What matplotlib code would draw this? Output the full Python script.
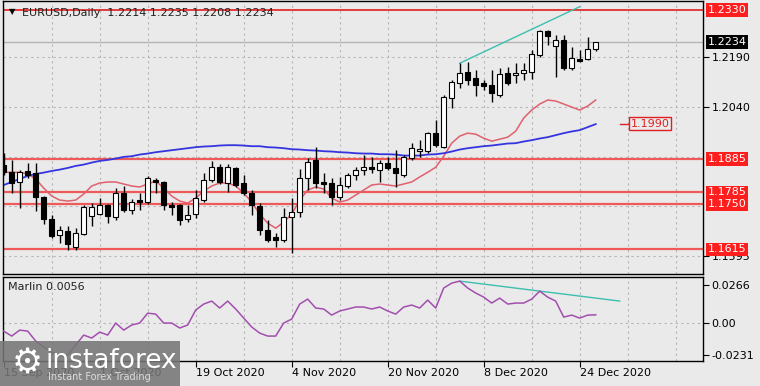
import numpy as np
import matplotlib.pyplot as plt
from matplotlib.patches import Rectangle

# bar index 0 = 15 Sep 2020, one bar per trading day
opens = [1.1866, 1.1845, 1.1816, 1.1848, 1.1842, 1.1771, 1.1705, 1.1657, 1.1669, 1.1621,
         1.1660, 1.1714, 1.1720, 1.1747, 1.1711, 1.1783, 1.1732, 1.1762, 1.1756, 1.1822,
         1.1816, 1.1747, 1.1747, 1.1705, 1.1720, 1.1762, 1.1822, 1.1860, 1.1813, 1.1857,
         1.1813, 1.1783, 1.1744, 1.1672, 1.1651, 1.1642, 1.1711, 1.1726, 1.1828, 1.1881,
         1.1816, 1.1813, 1.1771, 1.1804, 1.1837, 1.1851, 1.1860, 1.1851, 1.1872, 1.1857,
         1.1837, 1.1887, 1.1908, 1.1908, 1.1962, 1.1920, 1.2067, 1.2112, 1.2145, 1.2127,
         1.2112, 1.2106, 1.2076, 1.2142, 1.2136, 1.2142, 1.2145, 1.2195, 1.2267, 1.2222,
         1.2240, 1.2157, 1.2183, 1.2183, 1.2214]
highs = [1.1902, 1.1881, 1.1851, 1.1872, 1.1872, 1.1774, 1.1717, 1.1684, 1.1684, 1.1678,
         1.1747, 1.1753, 1.1768, 1.1750, 1.1798, 1.1804, 1.1765, 1.1783, 1.1834, 1.1828,
         1.1819, 1.1756, 1.1750, 1.1747, 1.1792, 1.1842, 1.1878, 1.1869, 1.1869, 1.1860,
         1.1837, 1.1792, 1.1753, 1.1702, 1.1663, 1.1738, 1.1768, 1.1854, 1.1887, 1.1920,
         1.1842, 1.1828, 1.1831, 1.1842, 1.1860, 1.1896, 1.1890, 1.1881, 1.1890, 1.1911,
         1.1896, 1.1932, 1.1941, 1.1965, 1.2001, 1.2076, 1.2121, 1.2171, 1.2174, 1.2151,
         1.2121, 1.2151, 1.2157, 1.2160, 1.2171, 1.2171, 1.2210, 1.2270, 1.2270, 1.2255,
         1.2255, 1.2219, 1.2210, 1.2249, 1.2235]
lows = [1.1837, 1.1783, 1.1738, 1.1828, 1.1729, 1.1690, 1.1648, 1.1633, 1.1612, 1.1612,
        1.1657, 1.1684, 1.1717, 1.1693, 1.1702, 1.1726, 1.1720, 1.1732, 1.1750, 1.1783,
        1.1732, 1.1717, 1.1687, 1.1696, 1.1708, 1.1756, 1.1816, 1.1810, 1.1786, 1.1801,
        1.1777, 1.1717, 1.1657, 1.1636, 1.1621, 1.1636, 1.1603, 1.1711, 1.1792, 1.1798,
        1.1783, 1.1747, 1.1762, 1.1798, 1.1822, 1.1837, 1.1842, 1.1816, 1.1851, 1.1801,
        1.1831, 1.1881, 1.1890, 1.1902, 1.1920, 1.1917, 1.2037, 1.2097, 1.2106, 1.2073,
        1.2091, 1.2055, 1.2070, 1.2106, 1.2112, 1.2121, 1.2124, 1.2189, 1.2225, 1.2130,
        1.2151, 1.2151, 1.2174, 1.2180, 1.2208]
closes = [1.1845, 1.1813, 1.1845, 1.1837, 1.1771, 1.1705, 1.1654, 1.1672, 1.1630, 1.1663,
          1.1741, 1.1741, 1.1747, 1.1714, 1.1783, 1.1732, 1.1756, 1.1756, 1.1828, 1.1816,
          1.1747, 1.1741, 1.1702, 1.1717, 1.1768, 1.1822, 1.1860, 1.1816, 1.1860, 1.1807,
          1.1783, 1.1747, 1.1672, 1.1642, 1.1642, 1.1711, 1.1726, 1.1828, 1.1875, 1.1813,
          1.1810, 1.1771, 1.1807, 1.1837, 1.1851, 1.1860, 1.1854, 1.1872, 1.1857, 1.1842,
          1.1890, 1.1917, 1.1914, 1.1962, 1.1926, 1.2070, 1.2115, 1.2142, 1.2121, 1.2106,
          1.2103, 1.2082, 1.2139, 1.2112, 1.2142, 1.2151, 1.2198, 1.2267, 1.2252, 1.2240,
          1.2157, 1.2186, 1.2177, 1.2213, 1.2234]

# moving averages
ma_fast = [1.1845, 1.1845, 1.1845, 1.1840, 1.1825, 1.1798, 1.1774, 1.1762, 1.1759, 1.1762,
           1.1780, 1.1804, 1.1813, 1.1816, 1.1816, 1.1810, 1.1804, 1.1801, 1.1810, 1.1819,
           1.1798, 1.1774, 1.1759, 1.1753, 1.1768, 1.1789, 1.1804, 1.1813, 1.1813, 1.1804,
           1.1783, 1.1756, 1.1720, 1.1693, 1.1678, 1.1696, 1.1720, 1.1762, 1.1792, 1.1801,
           1.1795, 1.1768, 1.1756, 1.1762, 1.1777, 1.1792, 1.1807, 1.1810, 1.1807, 1.1804,
           1.1810, 1.1816, 1.1831, 1.1845, 1.1860, 1.1893, 1.1932, 1.1953, 1.1962, 1.1959,
           1.1947, 1.1938, 1.1944, 1.1950, 1.1968, 1.2007, 1.2031, 1.2049, 1.2061, 1.2058,
           1.2049, 1.2040, 1.2031, 1.2043, 1.2061]
ma_slow = [1.1807, 1.1816, 1.1825, 1.1834, 1.1840, 1.1844, 1.1849, 1.1853, 1.1858, 1.1864,
           1.1868, 1.1874, 1.1879, 1.1882, 1.1886, 1.1891, 1.1893, 1.1898, 1.1901, 1.1905,
           1.1908, 1.1911, 1.1914, 1.1917, 1.1920, 1.1922, 1.1923, 1.1925, 1.1926, 1.1926,
           1.1925, 1.1923, 1.1923, 1.1920, 1.1919, 1.1917, 1.1914, 1.1913, 1.1911, 1.1910,
           1.1908, 1.1907, 1.1905, 1.1904, 1.1902, 1.1901, 1.1901, 1.1899, 1.1899, 1.1898,
           1.1895, 1.1895, 1.1895, 1.1898, 1.1899, 1.1902, 1.1907, 1.1913, 1.1917, 1.1920,
           1.1923, 1.1925, 1.1928, 1.1931, 1.1932, 1.1937, 1.1941, 1.1946, 1.1950, 1.1956,
           1.1962, 1.1967, 1.1971, 1.1980, 1.1989]
marlin = [-0.0059, -0.0094, -0.0052, -0.0059, -0.0129, -0.0172, -0.0207, -0.0235, -0.0228, -0.0157,
          -0.0087, -0.0108, -0.0066, -0.0087, -0.0002, -0.0052, -0.0016, -0.0002, 0.0068, 0.0061,
          -0.0002, -0.0002, -0.0037, -0.0016, 0.0090, 0.0132, 0.0153, 0.0104, 0.0153, 0.0097,
          0.0033, -0.0030, -0.0073, -0.0094, -0.0094, -0.0002, 0.0026, 0.0132, 0.0167, 0.0104,
          0.0097, 0.0054, 0.0083, 0.0097, 0.0111, 0.0111, 0.0097, 0.0111, 0.0083, 0.0061,
          0.0111, 0.0125, 0.0104, 0.0160, 0.0104, 0.0245, 0.0280, 0.0294, 0.0245, 0.0210,
          0.0181, 0.0139, 0.0174, 0.0132, 0.0139, 0.0139, 0.0167, 0.0223, 0.0181, 0.0153,
          0.0040, 0.0054, 0.0033, 0.0054, 0.0056]

levels = [1.2330, 1.1885, 1.1785, 1.1750, 1.1615]
level_labels = ['1.2330', '1.1885', '1.1785', '1.1750', '1.1615']
grid_prices = [1.2190, 1.2040, 1.1890, 1.1745, 1.1595]
axis_prices = [1.2190, 1.2040, 1.1595]
axis_price_labels = ['1.2190', '1.2040', '1.1595']
bid = 1.2234
slow_ma_mark = 1.1990
price_trend_x = [57, 72]
price_trend_y = [1.2171, 1.2340]
marlin_trend_x = [57, 77]
marlin_trend_y = [0.0294, 0.0153]
date_pos = [0, 12, 24, 36, 48, 60, 72]
date_labels = ['15 Sep 2020', '1 Oct 2020', '19 Oct 2020', '4 Nov 2020',
               '20 Nov 2020', '8 Dec 2020', '24 Dec 2020']
marlin_ticks = [0.0266, 0.0, -0.0231]
marlin_tick_labels = ['0.0266', '0.00', '-0.0231']

BG = '#eaeaea'
W, H = 760, 386
fig = plt.figure(figsize=(W / 100, H / 100), dpi=100, facecolor=BG)
plt.rcParams['font.family'] = 'DejaVu Sans'

def px_axes(x0, y0, x1, y1):
    return fig.add_axes([x0 / W, 1 - y1 / H, (x1 - x0) / W, (y1 - y0) / H])

ax = px_axes(2.5, 1, 703.3, 274)
ax2 = px_axes(2.5, 277, 703.3, 361)

xmin, xmax = -0.15, 87.45
for a in (ax, ax2):
    a.set_facecolor(BG)
    a.set_xlim(xmin, xmax)
    for s in a.spines.values():
        s.set_color('black')
        s.set_linewidth(1)
    for gx in range(6, 88, 6):
        a.axvline(gx, color='#b5b5b5', lw=0.8, ls=(0, (2, 3)), zorder=0)

# ---- price panel
ax.set_ylim(1.1541, 1.2357)
for g in grid_prices:
    ax.axhline(g, color='#b5b5b5', lw=0.8, ls=(0, (2, 3)), zorder=0)
ax.axhline(bid, color='#b4b4b4', lw=1, zorder=1)

for lv in levels:
    if lv == levels[0]:
        ax.axhline(lv, color='#e02020', lw=1.2, zorder=1)
    else:
        ax.axhline(lv, color='#ee5a5a', lw=1.6, zorder=1)

x = np.arange(len(opens))
o = np.array(opens)
c = np.array(closes)
ax.vlines(x, lows, highs, color='black', lw=1, zorder=3)
fills = ['white' if cc >= oo else 'black' for oo, cc in zip(o, c)]
ax.bar(x, np.maximum(np.abs(c - o), 0.00025), bottom=np.minimum(o, c), width=0.62,
       color=fills, edgecolor='black', linewidth=0.8, zorder=4)

ax.plot(x, ma_fast, color='#e0606e', lw=1.1, zorder=2)
ax.plot(x, ma_slow, color='#3535e0', lw=1.3, zorder=2)
ax.plot(price_trend_x, price_trend_y, color='#3cbfae', lw=1, zorder=2)

ax.plot([77, 78.3], [slow_ma_mark, slow_ma_mark], color='#e02020', lw=1, zorder=2)
ax.text(78.4, slow_ma_mark, '1.1990', color='#e02020', fontsize=8, va='center', ha='left',
        bbox=dict(boxstyle='square,pad=0.15', fc=BG, ec='#e02020', lw=1), zorder=5)

ax.set_xticks([])
ax.yaxis.tick_right()
ax.set_yticks(axis_prices, axis_price_labels)
ax.tick_params(axis='y', length=4, labelsize=8, pad=2, colors='black')

ytr = ax.get_yaxis_transform()
for lv, lab in zip(levels, level_labels):
    ax.text(1.006, lv, lab, transform=ytr, color='white', fontsize=8, va='center', ha='left',
            bbox=dict(boxstyle='square,pad=0.15', fc='#ff1e1e', ec='none'), zorder=6)
ax.text(1.006, bid, '1.2234', transform=ytr, color='white', fontsize=8, va='center', ha='left',
        bbox=dict(boxstyle='square,pad=0.15', fc='black', ec='none'), zorder=6)

ax.annotate('\u25bc', xy=(0, 1), xycoords='axes fraction', xytext=(6, -11),
            textcoords='offset pixels', fontsize=6, va='center', ha='left')
ax.annotate('EURUSD,Daily  1.2214 1.2235 1.2208 1.2234', xy=(0, 1), xycoords='axes fraction',
            xytext=(19, -12), textcoords='offset pixels', fontsize=8, va='center', ha='left',
            color='#222222')

# ---- Marlin panel
ax2.set_ylim(-0.0270, 0.0323)
ax2.axhline(0, color='#b5b5b5', lw=0.8, ls=(0, (2, 3)), zorder=0)
ax2.plot(x, marlin, color='#a24fae', lw=1.1, zorder=3)
ax2.plot(marlin_trend_x, marlin_trend_y, color='#3cbfae', lw=1, zorder=2)
ax2.yaxis.tick_right()
ax2.set_yticks(marlin_ticks, marlin_tick_labels)
ax2.tick_params(axis='y', length=4, labelsize=8, pad=2)
ax2.set_xticks(date_pos, date_labels)
ax2.tick_params(axis='x', length=4, labelsize=8, pad=1)
for t in ax2.get_xticklabels():
    t.set_ha('left')
ax2.annotate('Marlin 0.0056', xy=(0, 1), xycoords='axes fraction', xytext=(5, -10),
             textcoords='offset pixels', fontsize=8, va='center', ha='left', color='#222222')

# ---- watermark
fig.patches.append(Rectangle((0, 0), 180 / W, 45 / H, transform=fig.transFigure,
                             fc='#767676', ec='none', alpha=0.88, zorder=10))
fig.text(27 / W, 1 - 363 / H, '\u2699', fontsize=25, color='white', ha='center', va='center',
         zorder=11)
fig.text(46 / W, 1 - 361 / H, 'instaforex', fontsize=19, color='white', ha='left',
         va='center', zorder=11)
fig.text(48 / W, 1 - 377 / H, 'Instant Forex Trading', fontsize=7, color='#dddddd',
         ha='left', va='center', zorder=11)

fig.savefig('out.png', dpi=100, facecolor=BG)
